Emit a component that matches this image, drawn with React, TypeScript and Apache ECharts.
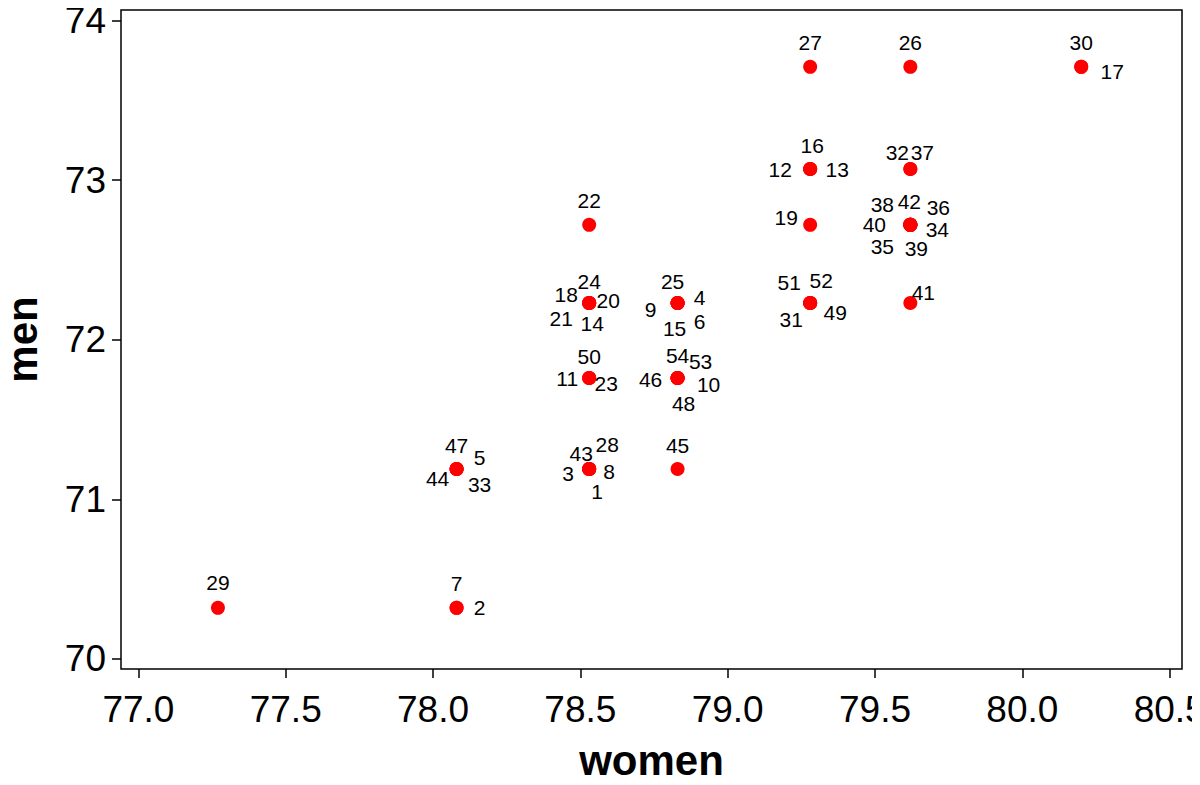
import React, { useEffect, useRef } from "react";
import * as echarts from "echarts";

// observation ids 1..54
const ids: number[] = Array.from({ length: 54 }, (_, i) => i + 1);

// life expectancy, women (x) per id
const women: number[] = [
  78.53, 78.08, 78.53, 78.83, 78.08, 78.83, 78.08, 78.53, 78.83, 78.83,
  78.53, 79.28, 79.28, 78.53, 78.83, 79.28, 80.2, 78.53, 79.28, 78.53,
  78.53, 78.53, 78.53, 78.53, 78.83, 79.62, 79.28, 78.53, 77.27, 80.2,
  79.28, 79.62, 78.08, 79.62, 79.62, 79.62, 79.62, 79.62, 79.62, 79.62,
  79.62, 79.62, 78.53, 78.08, 78.83, 78.83, 78.08, 78.83, 79.28, 78.53,
  79.28, 79.28, 78.83, 78.83,
];

// life expectancy, men (y) per id
const men: number[] = [
  71.19, 70.32, 71.19, 72.23, 71.19, 72.23, 70.32, 71.19, 72.23, 71.76,
  71.76, 73.07, 73.07, 72.23, 72.23, 73.07, 73.71, 72.23, 72.72, 72.23,
  72.23, 72.72, 71.76, 72.23, 72.23, 73.71, 73.71, 71.19, 70.32, 73.71,
  72.23, 73.07, 71.19, 72.72, 72.72, 72.72, 73.07, 72.72, 72.72, 72.72,
  72.23, 72.72, 71.19, 71.19, 71.19, 71.76, 71.19, 71.76, 72.23, 71.76,
  72.23, 72.23, 71.76, 71.76,
];

const xTicks: number[] = [77.0, 77.5, 78.0, 78.5, 79.0, 79.5, 80.0, 80.5];
const yTicks: number[] = [70, 71, 72, 73, 74];

// label placement (pixel offset from point), layout only
const labelOffsets: Record<number, [number, number]> = {
  1: [8, 22], 2: [23, 0], 3: [-21, 4], 4: [22, -6], 5: [23, -12],
  6: [22, 18], 7: [0, -24], 8: [20, 2], 9: [-27, 6], 10: [31, 6],
  11: [-22, 0], 12: [-30, 1], 13: [27, 1], 14: [3, 20], 15: [-3, 25],
  16: [2, -23], 17: [31, 5], 18: [-23, -9], 19: [-24, -7], 20: [19, -3],
  21: [-28, 15], 22: [0, -24], 23: [17, 5], 24: [0, -22], 25: [-5, -22],
  26: [0, -24], 27: [0, -24], 28: [18, -25], 29: [0, -25], 30: [0, -24],
  31: [-19, 16], 32: [-13, -16], 33: [23, 15], 34: [27, 5], 35: [-28, 22],
  36: [28, -17], 37: [12, -16], 38: [-28, -20], 39: [6, 24], 40: [-36, 0],
  41: [13, -11], 42: [-1, -23], 43: [-8, -16], 44: [-19, 9], 45: [0, -24],
  46: [-27, 1], 47: [0, -24], 48: [6, 25], 49: [25, 9], 50: [0, -22],
  51: [-21, -21], 52: [11, -23], 53: [23, -17], 54: [0, -23],
};

const FONT = "'Liberation Sans', Arial, Helvetica, sans-serif";

export default function App() {
  const ref = useRef<HTMLDivElement>(null);
  useEffect(() => {
    if (!ref.current) return;
    const chart = echarts.init(ref.current, null, { renderer: "svg" });
    const points = ids.map((id, i) => [women[i], men[i], id]);
    chart.setOption({
      animation: false,
      backgroundColor: "#ffffff",
      grid: {
        left: 121,
        right: 18,
        top: 10,
        bottom: 116,
        show: true,
        containLabel: false,
        outerBoundsMode: "none",
        borderColor: "#000",
        borderWidth: 1.5,
        backgroundColor: "transparent",
      },
      xAxis: {
        type: "value",
        min: 76.941,
        max: 80.542,
        name: "women",
        nameLocation: "middle",
        nameGap: 70,
        nameTextStyle: { fontFamily: FONT, fontSize: 42, fontWeight: "bold", color: "#000" },
        axisLine: { show: false },
        splitLine: { show: false },
        axisTick: {
          show: true,
          inside: false,
          length: 9,
          customValues: xTicks,
          lineStyle: { color: "#000", width: 1.5 },
        },
        axisLabel: {
          customValues: xTicks,
          formatter: (v: number) => v.toFixed(1),
          fontFamily: FONT,
          fontSize: 37,
          color: "#000",
          margin: 22,
        },
      },
      yAxis: {
        type: "value",
        min: 69.937,
        max: 74.066,
        name: "men",
        nameLocation: "middle",
        nameGap: 78,
        nameRotate: 90,
        nameTextStyle: { fontFamily: FONT, fontSize: 42, fontWeight: "bold", color: "#000" },
        axisLine: { show: false },
        splitLine: { show: false },
        axisTick: {
          show: true,
          inside: false,
          length: 9,
          customValues: yTicks,
          lineStyle: { color: "#000", width: 1.5 },
        },
        axisLabel: {
          customValues: yTicks,
          formatter: (v: number) => String(Math.round(v)),
          fontFamily: FONT,
          fontSize: 37,
          color: "#000",
          margin: 15,
        },
      },
      series: [
        {
          type: "scatter",
          data: points,
          symbol: "circle",
          symbolSize: 14,
          itemStyle: { color: "#ff0000", opacity: 1 },
          z: 2,
        },
        {
          type: "custom",
          data: points,
          z: 3,
          silent: true,
          encode: { x: 0, y: 1 },
          renderItem: (params: any, api: any) => {
            const pt = api.coord([api.value(0), api.value(1)]);
            const id = api.value(2) as number;
            const off = labelOffsets[id] || [0, -24];
            return {
              type: "text",
              x: pt[0] + off[0],
              y: pt[1] + off[1],
              style: {
                text: String(id),
                fill: "#000",
                fontFamily: FONT,
                fontSize: 21,
                align: "center",
                verticalAlign: "middle",
              },
            };
          },
        },
      ],
    });
    return () => chart.dispose();
  }, []);
  return <div ref={ref} style={{ width: 1200, height: 785, margin: -8 }} />;
}
